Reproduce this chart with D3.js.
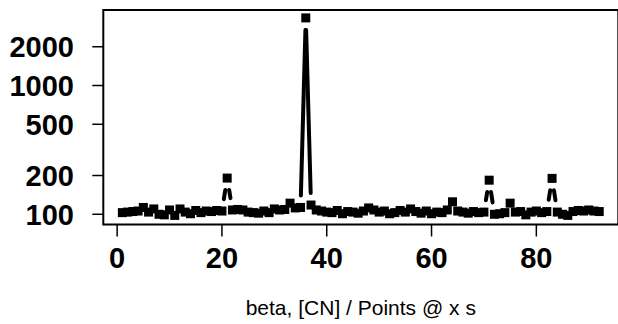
<!DOCTYPE html>
<html>
<head>
<meta charset="utf-8">
<script src="https://cdn.jsdelivr.net/npm/d3@7"></script>
<style>
html,body{margin:0;padding:0;background:#fff;}
svg{display:block;}
</style>
</head>
<body>
<svg id="chart" width="618" height="324"></svg>
<script>
// ---- data ----
const xValues = d3.range(1, 93);
const yValues = [
  103,104,105,106,113,104,110,100, 99,108,
   98,110,104,101,107,103,106,105,107,106,
  191,108,109,108,104,103,102,106,103,110,
  108,109,122,112,113,3350,118,108,106,104,
  103,107,101,105,104,102,106,112,108,104,
  106,101,103,107,104,110,105,102,106,101,
  104,103,108,125,106,104,102,105,103,104,
  184,100,101,103,122,104,105, 99,104,106,
  103,105,190,104,100, 98,105,107,106,108,
  106,105
];
const yTicks = [100, 200, 500, 1000, 2000];
const xTicks = [0, 20, 40, 60, 80];
const xLabel = "beta, [CN] / Points @ x s";

// ---- layout ----
const svg = d3.select("#chart");
const pLeft = 103.3, pRight = 618.3, pTop = 10, pBottom = 224.5;

const x = d3.scaleLinear().domain([-2.64, 95.64]).range([pLeft, pRight]);
const y = d3.scaleLog().domain([83.3, 3858]).range([pBottom, pTop]);

const pts = xValues.map((d, i) => [x(d), y(yValues[i])]);

// lines with gaps (type "b")
const gap = 12;
const segs = [];
for (let i = 0; i < pts.length - 1; i++) {
  const [x0, y0] = pts[i], [x1, y1] = pts[i + 1];
  const dx = x1 - x0, dy = y1 - y0, L = Math.hypot(dx, dy);
  if (L > 2 * gap) {
    const ux = dx / L, uy = dy / L;
    segs.push([[x0 + ux * gap, y0 + uy * gap], [x1 - ux * gap, y1 - uy * gap]]);
  }
}
svg.append("g").selectAll("line").data(segs).join("line")
  .attr("x1", d => d[0][0]).attr("y1", d => d[0][1])
  .attr("x2", d => d[1][0]).attr("y2", d => d[1][1])
  .attr("stroke", "#000").attr("stroke-width", 4).attr("stroke-linecap", "round");

const s = 9;
svg.append("g").selectAll("rect").data(pts).join("rect")
  .attr("x", d => d[0] - s / 2).attr("y", d => d[1] - s / 2)
  .attr("width", s).attr("height", s).attr("fill", "#000");

// box
svg.append("rect")
  .attr("x", pLeft).attr("y", pTop).attr("width", pRight - pLeft).attr("height", pBottom - pTop)
  .attr("fill", "none").attr("stroke", "#000").attr("stroke-width", 2);

// y axis
const yAxis = svg.append("g");
yAxis.selectAll("line").data(yTicks).join("line")
  .attr("x1", pLeft - 11).attr("x2", pLeft)
  .attr("y1", d => y(d)).attr("y2", d => y(d))
  .attr("stroke", "#000").attr("stroke-width", 1.5);
yAxis.selectAll("text").data(yTicks).join("text")
  .attr("x", 74).attr("y", d => y(d)).attr("dy", "0.36em")
  .attr("text-anchor", "end")
  .attr("font-family", "Liberation Sans, Arial, sans-serif")
  .attr("font-weight", "bold").attr("font-size", 29)
  .text(d => d);

// x axis
const xAxis = svg.append("g");
xAxis.selectAll("line").data(xTicks).join("line")
  .attr("x1", d => x(d)).attr("x2", d => x(d))
  .attr("y1", pBottom).attr("y2", pBottom + 12)
  .attr("stroke", "#000").attr("stroke-width", 1.5);
xAxis.selectAll("text").data(xTicks).join("text")
  .attr("x", d => x(d)).attr("y", 268)
  .attr("text-anchor", "middle")
  .attr("font-family", "Liberation Sans, Arial, sans-serif")
  .attr("font-weight", "bold").attr("font-size", 29)
  .text(d => d);

svg.append("text")
  .attr("x", (pLeft + pRight) / 2).attr("y", 315)
  .attr("text-anchor", "middle")
  .attr("font-family", "Liberation Sans, Arial, sans-serif")
  .attr("font-size", 21)
  .text(xLabel);
</script>
</body>
</html>
